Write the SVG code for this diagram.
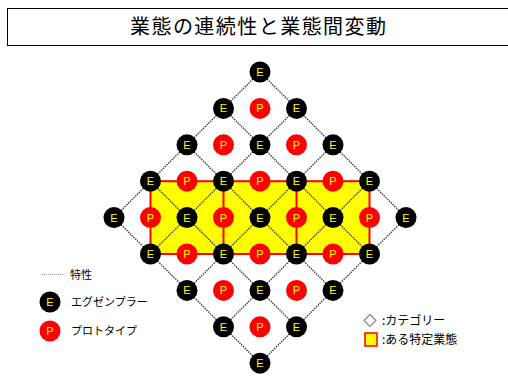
<svg xmlns="http://www.w3.org/2000/svg" width="508" height="378" viewBox="0 0 508 378">
<style>
.bg{fill:#fff}
.title{font-family:"Noto Sans CJK JP",sans-serif;font-size:20px;fill:#000}
.lbl{font-family:"Noto Sans CJK JP",sans-serif;font-size:11px;fill:#000}
.lbl2{font-family:"Noto Sans CJK JP",sans-serif;font-size:12px;fill:#000}
.lat line{stroke:#333;stroke-width:1.3;stroke-dasharray:1.5 1}
.ec{fill:#000}
.pc{fill:#ff0000}
.nt{font-family:"Liberation Sans",Arial,sans-serif;font-size:11px;fill:#ffff00;text-anchor:middle}
.red{stroke:#ff0000;stroke-width:2;fill:none}
</style>
<rect class="bg" x="0" y="0" width="508" height="378"/>
<g id="title">
<rect x="7.5" y="8.5" width="505" height="37" fill="#fff" stroke="#000" stroke-width="1"/>
<text class="title" x="258" y="34" text-anchor="middle" textLength="256" lengthAdjust="spacing">業態の連続性と業態間変動</text>
</g>
<g id="region">
<rect x="150.5" y="181.2" width="219" height="72.8" fill="#ffff00" stroke="#ff0000" stroke-width="2"/>
<line class="red" x1="223.5" y1="181.2" x2="223.5" y2="254"/>
<line class="red" x1="296.5" y1="181.2" x2="296.5" y2="254"/>
</g>
<g id="connectors" class="lat">
<line x1="260" y1="72" x2="296.5" y2="108.4"/><line x1="296.5" y1="108.4" x2="333" y2="144.8"/><line x1="333" y1="144.8" x2="369.5" y2="181.2"/><line x1="369.5" y1="181.2" x2="406" y2="217.6"/>
<line x1="223.5" y1="108.4" x2="260" y2="144.8"/><line x1="260" y1="144.8" x2="296.5" y2="181.2"/><line x1="296.5" y1="181.2" x2="333" y2="217.6"/><line x1="333" y1="217.6" x2="369.5" y2="254"/>
<line x1="187" y1="144.8" x2="223.5" y2="181.2"/><line x1="223.5" y1="181.2" x2="260" y2="217.6"/><line x1="260" y1="217.6" x2="296.5" y2="254"/><line x1="296.5" y1="254" x2="333" y2="290.4"/>
<line x1="150.5" y1="181.2" x2="187" y2="217.6"/><line x1="187" y1="217.6" x2="223.5" y2="254"/><line x1="223.5" y1="254" x2="260" y2="290.4"/><line x1="260" y1="290.4" x2="296.5" y2="326.8"/>
<line x1="114" y1="217.6" x2="150.5" y2="254"/><line x1="150.5" y1="254" x2="187" y2="290.4"/><line x1="187" y1="290.4" x2="223.5" y2="326.8"/><line x1="223.5" y1="326.8" x2="260" y2="363.2"/>
<line x1="260" y1="72" x2="223.5" y2="108.4"/><line x1="223.5" y1="108.4" x2="187" y2="144.8"/><line x1="187" y1="144.8" x2="150.5" y2="181.2"/><line x1="150.5" y1="181.2" x2="114" y2="217.6"/>
<line x1="296.5" y1="108.4" x2="260" y2="144.8"/><line x1="260" y1="144.8" x2="223.5" y2="181.2"/><line x1="223.5" y1="181.2" x2="187" y2="217.6"/><line x1="187" y1="217.6" x2="150.5" y2="254"/>
<line x1="333" y1="144.8" x2="296.5" y2="181.2"/><line x1="296.5" y1="181.2" x2="260" y2="217.6"/><line x1="260" y1="217.6" x2="223.5" y2="254"/><line x1="223.5" y1="254" x2="187" y2="290.4"/>
<line x1="369.5" y1="181.2" x2="333" y2="217.6"/><line x1="333" y1="217.6" x2="296.5" y2="254"/><line x1="296.5" y1="254" x2="260" y2="290.4"/><line x1="260" y1="290.4" x2="223.5" y2="326.8"/>
<line x1="406" y1="217.6" x2="369.5" y2="254"/><line x1="369.5" y1="254" x2="333" y2="290.4"/><line x1="333" y1="290.4" x2="296.5" y2="326.8"/><line x1="296.5" y1="326.8" x2="260" y2="363.2"/>
</g>
<defs>
<g id="E"><circle class="ec" r="10.5"/><text class="nt" y="4">E</text></g>
<g id="P"><circle class="pc" r="10.5"/><text class="nt" y="4">P</text></g>
</defs>
<g id="exemplars">
<g id="e00"><use href="#E" x="260" y="72"/></g>
<g id="e10"><use href="#E" x="296.5" y="108.4"/></g>
<g id="e20"><use href="#E" x="333" y="144.8"/></g>
<g id="e30"><use href="#E" x="369.5" y="181.2"/></g>
<g id="e40"><use href="#E" x="406" y="217.6"/></g>
<g id="e01"><use href="#E" x="223.5" y="108.4"/></g>
<g id="e11"><use href="#E" x="260" y="144.8"/></g>
<g id="e21"><use href="#E" x="296.5" y="181.2"/></g>
<g id="e31"><use href="#E" x="333" y="217.6"/></g>
<g id="e41"><use href="#E" x="369.5" y="254"/></g>
<g id="e02"><use href="#E" x="187" y="144.8"/></g>
<g id="e12"><use href="#E" x="223.5" y="181.2"/></g>
<g id="e22"><use href="#E" x="260" y="217.6"/></g>
<g id="e32"><use href="#E" x="296.5" y="254"/></g>
<g id="e42"><use href="#E" x="333" y="290.4"/></g>
<g id="e03"><use href="#E" x="150.5" y="181.2"/></g>
<g id="e13"><use href="#E" x="187" y="217.6"/></g>
<g id="e23"><use href="#E" x="223.5" y="254"/></g>
<g id="e33"><use href="#E" x="260" y="290.4"/></g>
<g id="e43"><use href="#E" x="296.5" y="326.8"/></g>
<g id="e04"><use href="#E" x="114" y="217.6"/></g>
<g id="e14"><use href="#E" x="150.5" y="254"/></g>
<g id="e24"><use href="#E" x="187" y="290.4"/></g>
<g id="e34"><use href="#E" x="223.5" y="326.8"/></g>
<g id="e44"><use href="#E" x="260" y="363.2"/></g>
</g>
<g id="prototypes">
<g id="p00"><use href="#P" x="260" y="108.4"/></g>
<g id="p10"><use href="#P" x="296.5" y="144.8"/></g>
<g id="p20"><use href="#P" x="333" y="181.2"/></g>
<g id="p30"><use href="#P" x="369.5" y="217.6"/></g>
<g id="p01"><use href="#P" x="223.5" y="144.8"/></g>
<g id="p11"><use href="#P" x="260" y="181.2"/></g>
<g id="p21"><use href="#P" x="296.5" y="217.6"/></g>
<g id="p31"><use href="#P" x="333" y="254"/></g>
<g id="p02"><use href="#P" x="187" y="181.2"/></g>
<g id="p12"><use href="#P" x="223.5" y="217.6"/></g>
<g id="p22"><use href="#P" x="260" y="254"/></g>
<g id="p32"><use href="#P" x="296.5" y="290.4"/></g>
<g id="p03"><use href="#P" x="150.5" y="217.6"/></g>
<g id="p13"><use href="#P" x="187" y="254"/></g>
<g id="p23"><use href="#P" x="223.5" y="290.4"/></g>
<g id="p33"><use href="#P" x="260" y="326.8"/></g>
</g>
<g id="legend-left">
<line x1="42" y1="274.5" x2="63" y2="274.5" stroke="#888" stroke-width="1" stroke-dasharray="1 1"/>
<text class="lbl" x="70" y="279">特性</text>
<use href="#E" x="50" y="302"/>
<text class="lbl" x="71" y="306">エグゼンプラー</text>
<use href="#P" x="50" y="331"/>
<text class="lbl" x="71" y="335">プロトタイプ</text>
</g>
<g id="legend-right">
<polygon points="370,314.5 376,320.5 370,326.5 364,320.5" fill="#fff" stroke="#888" stroke-width="1.2"/>
<text class="lbl2" x="382" y="325">:カテゴリー</text>
<rect x="365" y="333" width="12" height="13" fill="#ffff00" stroke="#ff0000" stroke-width="1.5"/>
<text class="lbl2" x="382" y="344">:ある特定業態</text>
</g>
</svg>
